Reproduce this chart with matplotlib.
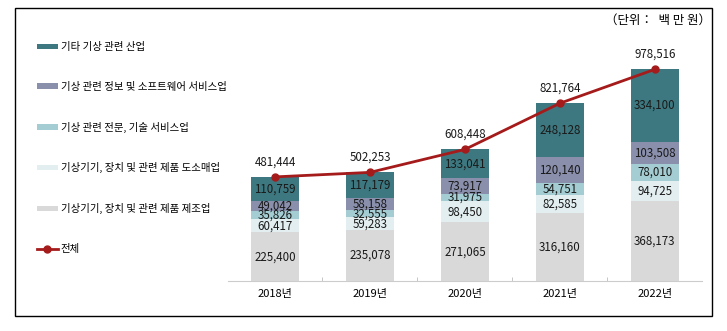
import matplotlib
matplotlib.use('Agg')
import matplotlib.pyplot as plt
from matplotlib.patches import Rectangle
import numpy as np

plt.rcParams['font.family'] = ['Noto Sans CJK KR', 'DejaVu Sans']

years = ['2018년', '2019년', '2020년', '2021년', '2022년']
# stacked bottom -> top
manufacturing = [225400, 235078, 271065, 316160, 368173]
wholesale = [60417, 59283, 98450, 82585, 94725]
tech_service = [35826, 32555, 31975, 54751, 78010]
info_sw = [49042, 58158, 73917, 120140, 103508]
other = [110759, 117179, 133041, 248128, 334100]
totals = [481444, 502253, 608448, 821764, 978516]

series_names = ['기상기기, 장치 및 관련 제품 제조업',
                '기상기기, 장치 및 관련 제품 도소매업',
                '기상 관련 전문, 기술 서비스업',
                '기상 관련 정보 및 소프트웨어 서비스업',
                '기타 기상 관련 산업']
total_name = '전체'
colors = ['#d9d9d9', '#e2eef0', '#a3cdd2', '#8a8fac', '#3d7880']

fig = plt.figure(figsize=(7.27, 3.31), dpi=100)
ax = fig.add_axes([0.313, 0.151, 0.653, 0.758])

x = np.arange(len(years))
bottom = np.zeros(len(years))
handles = []
for vals, name, c in zip([manufacturing, wholesale, tech_service, info_sw, other], series_names, colors):
    vals = np.array(vals)
    b = ax.bar(x, vals, 0.5, bottom=bottom, color=c, label=name)
    handles.append(b)
    for xi, v, bt in zip(x, vals, bottom):
        ax.text(xi, bt + v / 2, f'{v:,}', ha='center', va='center', fontsize=8.3, color='#1a1a1a')
    bottom = bottom + vals

line, = ax.plot(x, totals, color='#a51b1b', lw=2, marker='o', markersize=5, label=total_name)
for xi, t in zip(x, totals):
    ax.text(xi, t + 40000, f'{t:,}', ha='center', va='bottom', fontsize=8.3, color='#1a1a1a')

ax.set_xlim(-0.5, 4.5)
ax.set_ylim(0, 1160000)
ax.set_yticks([])
ax.set_xticks(x)
ax.set_xticklabels(years, fontsize=8, fontweight='medium')
ax.set_xticks(np.arange(0.5, 4.5, 1), minor=True)
ax.tick_params(axis='x', which='major', length=0, pad=6)
ax.tick_params(axis='x', which='minor', length=3, direction='in', color='#bbbbbb')
for s in ['top', 'right', 'left']:
    ax.spines[s].set_visible(False)
ax.spines['bottom'].set_color('#cccccc')

leg_handles = handles[::-1] + [line]
leg = fig.legend(leg_handles, [h.get_label() for h in leg_handles],
                 loc='upper left', bbox_to_anchor=(0.045, 0.885), frameon=False,
                 prop={'size': 7.5, 'weight': 'medium'}, labelspacing=2.85,
                 handlelength=2.0, handleheight=0.45,
                 handletextpad=0.3, borderaxespad=0)

fig.text(0.978, 0.94, '（단위：  백 만 원）', ha='right', va='center', fontsize=9)

fig.patches.append(Rectangle((0.021, 0.045), 0.959, 0.93, transform=fig.transFigure,
                             fill=False, edgecolor='black', lw=1))

fig.savefig('out.png', dpi=100)
